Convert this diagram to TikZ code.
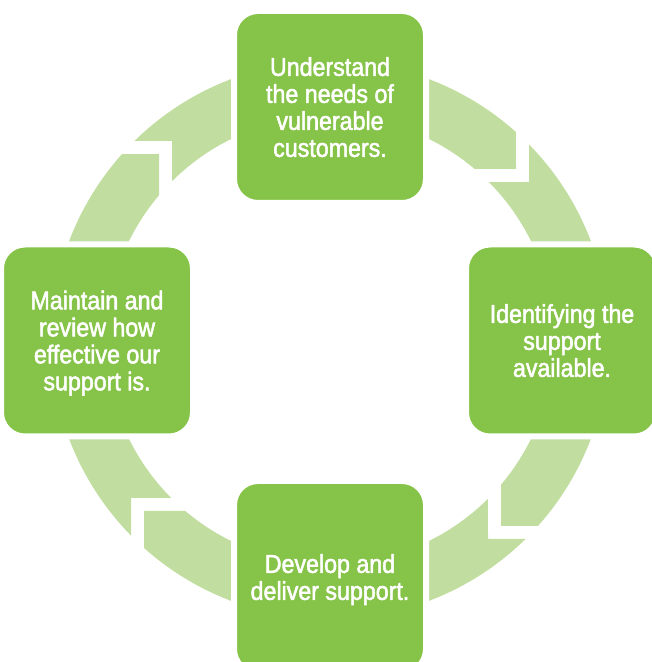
\documentclass[tikz,border=0pt]{standalone}
\usepackage{fontspec}
\setmainfont{Liberation Sans}[FakeStretch=0.9, FakeBold=2]
\definecolor{boxgreen}{RGB}{134,195,73}
\definecolor{bandgreen}{RGB}{193,222,160}
\begin{document}
\begin{tikzpicture}[x=1pt,y=1pt,
  stagebox/.style={rectangle, rounded corners=24pt, minimum width=192pt,
    minimum height=192pt, fill=boxgreen, draw=white, line width=6pt,
    text=white, align=center, font=\fontsize{25.8}{27}\selectfont,
    text depth=0pt, inner sep=0pt},
  band/.style={fill=bandgreen}]
\clip (0,0) rectangle (652,662);
\useasboundingbox (0,0) rectangle (652,662);
\coordinate (C) at (330,322);
% circular band, one quarter per step, each split by a stepped gap
\foreach \k in {0,1,2,3}{
  \begin{scope}[shift={(C)}, rotate=-90*\k]
    \fill[band] (90:279) arc[start angle=90, end angle=48.2, radius=279]
      -- (186,171) -- (144.7,171)
      arc[start angle=49.76, end angle=90, radius=224] -- cycle;
    \fill[band] (199,195.55) arc[start angle=44.5, end angle=0, radius=279]
      -- (224,0) arc[start angle=0, end angle=44.85, radius=224]
      -- (199,158) -- cycle;
  \end{scope}
}
% the four stages
\node[stagebox] (understand) at (330,555) {Understand\\the needs of\\vulnerable\\customers.};
\node[stagebox] (identify) at (562,321.5) {Identifying the\\support\\available.};
\node[stagebox] (deliver) at (330,85) {Develop and\\deliver support.};
\node[stagebox] (maintain) at (97,321.5) {Maintain and\\review how\\effective our\\support is.};
\end{tikzpicture}
\end{document}
